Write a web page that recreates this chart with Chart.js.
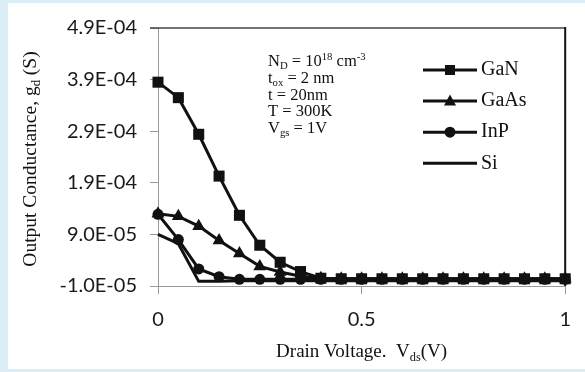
<!DOCTYPE html>
<html>
<head>
<meta charset="utf-8">
<script src="https://cdn.jsdelivr.net/npm/chart.js@4/dist/chart.umd.min.js"></script>
<style>
  html, body { margin: 0; padding: 0; }
  body { width: 585px; height: 372px; background: #dbeef6; position: relative; overflow: hidden; }
  #frame { position: absolute; left: 8px; top: 3px; width: 577px; height: 366px; background: #fff; }
  #chart { display: block; }
</style>
</head>
<body>
<div id="frame"><canvas id="chart" width="577" height="366"></canvas></div>
<script>
// Drain voltage steps (V)
const voltages = [0, 0.05, 0.1, 0.15, 0.2, 0.25, 0.3, 0.35, 0.4, 0.45, 0.5,
                  0.55, 0.6, 0.65, 0.7, 0.75, 0.8, 0.85, 0.9, 0.95, 1.0];

// Output conductance gd (S)
const gan  = [3.85e-4, 3.55e-4, 2.84e-4, 2.03e-4, 1.27e-4, 6.9e-5, 3.6e-5, 1.8e-5, 5e-6, 4e-6, 4e-6,
              4e-6, 4e-6, 4e-6, 4e-6, 4e-6, 4e-6, 4e-6, 4e-6, 4e-6, 4e-6];
const gaas = [1.30e-4, 1.25e-4, 1.06e-4, 7.8e-5, 5.3e-5, 2.8e-5, 1.7e-5, 9e-6, 5e-6, 4e-6, 4e-6,
              4e-6, 4e-6, 4e-6, 4e-6, 4e-6, 4e-6, 4e-6, 4e-6, 4e-6, 4e-6];
const inp  = [1.29e-4, 8.0e-5, 2.3e-5, 8e-6, 3e-6, 3e-6, 3e-6, 3e-6, 3e-6, 3e-6, 3e-6,
              3e-6, 3e-6, 3e-6, 3e-6, 3e-6, 3e-6, 3e-6, 3e-6, 3e-6, 3e-6];
const si   = [9.0e-5, 7.2e-5, -1e-6, -1e-6, 0, 0, 0, 0, 0, 0, 0,
              0, 0, 0, 0, 0, 0, 0, 0, 0, 0];

const seriesNames = ['GaN', 'GaAs', 'InP', 'Si'];
const yTickValues = [-1.0e-5, 9.0e-5, 1.9e-4, 2.9e-4, 3.9e-4, 4.9e-4];
const xTickValues = [0, 0.5, 1];

// Simulation parameters box (text parts: [text, 'sub' | 'sup' | ''])
const paramLines = [
  [['N', ''], ['D', 'sub'], [' = 10', ''], ['18', 'sup'], [' cm', ''], ['-3', 'sup']],
  [['t', ''], ['ox', 'sub'], [' = 2 nm', '']],
  [['t = 20nm', '']],
  [['T = 300K', '']],
  [['V', ''], ['gs', 'sub'], [' = 1V', '']]
];
const xTitle = [['Drain Voltage.  V', ''], ['ds', 'sub'], ['(V)', '']];
const yTitle = [['Output Conductance, g', ''], ['d', 'sub'], [' (S)', '']];

const SERIF = '"Liberation Serif", "Times New Roman", serif';
const SANS = 'Lato, "Open Sans", sans-serif';
const INK = '#111';

const toPoints = vals => vals.map((v, i) => ({ x: voltages[i], y: v }));

// 4.9e-4 -> "4.9E-04"
const fmtSci = v => {
  const [m, e] = Number(v).toExponential(1).split('e');
  const n = parseInt(e, 10);
  return m + 'E' + (n < 0 ? '-' : '+') + String(Math.abs(n)).padStart(2, '0');
};

// draw text with sub/superscripts, centred or left aligned around x
function drawRich(ctx, parts, x, y, size, align) {
  const small = size * 0.65;
  let total = 0;
  parts.forEach(([t, k]) => {
    ctx.font = (k ? small : size) + 'px ' + SERIF;
    total += ctx.measureText(t).width;
  });
  let cx = align === 'center' ? x - total / 2 : x;
  ctx.textAlign = 'left';
  ctx.textBaseline = 'middle';
  parts.forEach(([t, k]) => {
    ctx.font = (k ? small : size) + 'px ' + SERIF;
    const dy = k === 'sub' ? size * 0.28 : k === 'sup' ? -size * 0.3 : 0;
    ctx.fillText(t, cx, y + dy);
    cx += ctx.measureText(t).width;
  });
}

function drawMarker(ctx, style, x, y) {
  ctx.beginPath();
  if (style === 'rect') {
    ctx.rect(x - 5, y - 5, 10, 10);
  } else if (style === 'triangle') {
    ctx.moveTo(x, y - 6.5);
    ctx.lineTo(x + 6, y + 4.5);
    ctx.lineTo(x - 6, y + 4.5);
    ctx.closePath();
  } else if (style === 'circle') {
    ctx.arc(x, y, 5.5, 0, Math.PI * 2);
  } else {
    return;
  }
  ctx.fill();
}

const decorations = {
  id: 'decorations',
  afterDraw(chart) {
    const { ctx, chartArea: a } = chart;
    ctx.save();
    // top and right frame lines
    ctx.strokeStyle = '#444';
    ctx.lineWidth = 1.5;
    ctx.beginPath();
    ctx.moveTo(a.left - 8, a.top);
    ctx.lineTo(a.right, a.top);
    ctx.stroke();
    ctx.strokeStyle = '#111';
    ctx.lineWidth = 2;
    ctx.beginPath();
    ctx.moveTo(a.right, a.top - 1);
    ctx.lineTo(a.right, a.bottom);
    ctx.stroke();

    ctx.fillStyle = INK;
    // axis titles
    drawRich(ctx, xTitle, (a.left + a.right) / 2, 349, 19, 'center');
    ctx.save();
    ctx.translate(23, (a.top + a.bottom) / 2 + 2);
    ctx.rotate(-Math.PI / 2);
    drawRich(ctx, yTitle, 0, 0, 19.5, 'center');
    ctx.restore();

    // parameter text
    paramLines.forEach((line, i) => drawRich(ctx, line, 260, 59 + i * 16.7, 16.5, 'left'));

    // legend
    chart.data.datasets.forEach((ds, i) => {
      const y = 67 + i * 31.1;
      ctx.strokeStyle = INK;
      ctx.lineWidth = 3;
      ctx.beginPath();
      ctx.moveTo(415, y);
      ctx.lineTo(469, y);
      ctx.stroke();
      ctx.fillStyle = INK;
      drawMarker(ctx, ds.pointRadius ? ds.pointStyle : null, 442, y);
      drawRich(ctx, [[ds.label, '']], 473, y, 20, 'left');
    });
    ctx.restore();
  }
};

const styles = ['rect', 'triangle', 'circle', 'circle'];
const radii = [7.8, 7.5, 5.5, 0];
const values = [gan, gaas, inp, si];

new Chart(document.getElementById('chart'), {
  type: 'line',
  data: {
    datasets: values.map((vals, i) => ({
      label: seriesNames[i],
      data: toPoints(vals),
      borderColor: INK,
      backgroundColor: INK,
      borderWidth: 3,
      pointStyle: styles[i],
      pointRadius: radii[i],
      pointBackgroundColor: INK,
      pointBorderColor: INK,
      pointBorderWidth: 0,
      tension: 0,
      clip: false
    }))
  },
  options: {
    responsive: false,
    animation: false,
    events: [],
    layout: { padding: { top: 17, right: 12, left: 0, bottom: 0 } },
    plugins: { legend: { display: false }, tooltip: { enabled: false } },
    scales: {
      x: {
        type: 'linear',
        min: 0,
        max: 1,
        afterBuildTicks: scale => { scale.ticks = xTickValues.map(v => ({ value: v })); },
        afterFit: scale => { scale.height = 83; },
        border: { color: '#999', width: 1 },
        grid: { drawOnChartArea: false, drawTicks: true, tickLength: 8, color: '#999' },
        ticks: { color: '#1a1a1a', font: { family: SANS, size: 20 }, padding: 14, maxRotation: 0,
                 callback: v => String(v) }
      },
      y: {
        min: -1.0e-5,
        max: 4.9e-4,
        afterBuildTicks: scale => { scale.ticks = yTickValues.map(v => ({ value: v })); },
        afterFit: scale => { scale.width = 150; },
        border: { color: '#999', width: 1 },
        grid: { drawOnChartArea: false, drawTicks: true, tickLength: 8, color: '#999' },
        ticks: { color: '#1a1a1a', font: { family: SANS, size: 20 }, padding: 13,
                 callback: v => fmtSci(v) }
      }
    }
  },
  plugins: [decorations]
});
</script>
</body>
</html>
